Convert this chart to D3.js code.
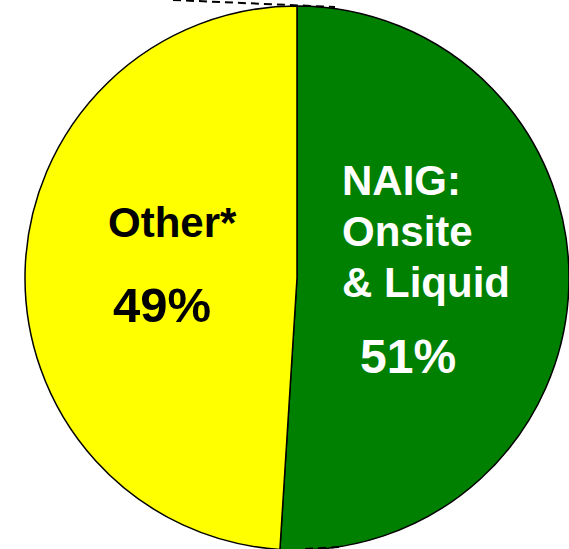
<!DOCTYPE html>
<html>
<head>
<meta charset="utf-8">
<script src="https://cdn.jsdelivr.net/npm/d3@7"></script>
<style>
    html, body { margin: 0; padding: 0; background: #fff; }
    svg { display: block; }
    .lbl { font-family: "Liberation Sans", Arial, sans-serif; font-weight: bold; }
</style>
</head>
<body>
<div id="chart"></div>
<script>
// slices, in drawing order (clockwise from 12 o'clock)
var categories = ["NAIG: Onsite & Liquid", "Other*"];
var shares = [51, 49];
var labelLines = [["NAIG:", "Onsite", "& Liquid"], ["Other*"]];
var percentLabels = ["51%", "49%"];
var sliceColors = ["#008000", "#ffff00"];
var textColors = ["#ffffff", "#000000"];

var width = 569,
    height = 549,
    cx = 297,
    cy = 278,
    radius = 272;

var svg = d3.select("#chart")
    .append("svg")
    .attr("width", width)
    .attr("height", height);

var g = svg.append("g")
    .attr("transform", "translate(" + cx + "," + cy + ")");

var pie = d3.pie().sort(null).value(function (d) { return d; });
var arc = d3.arc().innerRadius(0).outerRadius(radius);

var slices = pie(shares);

g.selectAll("path.slice")
    .data(slices)
    .enter()
    .append("path")
    .attr("class", "slice")
    .attr("d", arc)
    .attr("fill", function (d, i) { return sliceColors[i]; })
    .attr("stroke", "#000")
    .attr("stroke-width", 1.5);

// leader lines from the exploded pie (dashed)
g.append("line")
    .attr("x1", -124).attr("y1", -radius - 6)
    .attr("x2", 38).attr("y2", -radius + 1)
    .attr("stroke", "#000")
    .attr("stroke-width", 2)
    .attr("stroke-dasharray", "8,5");

g.append("line")
    .attr("x1", 8).attr("y1", radius - 1)
    .attr("x2", 42).attr("y2", radius - 3)
    .attr("stroke", "#000")
    .attr("stroke-width", 2)
    .attr("stroke-dasharray", "8,5");

// label layout, relative to the pie centre
var labelPos = [
    { x: 45, y: -83, lineGap: 51, size: 42, px: 63, py: 95, psize: 48 },
    { x: -189, y: -41, lineGap: 51, size: 42, px: -184, py: 44, psize: 49 }
];

slices.forEach(function (s, i) {
    var p = labelPos[i];
    var t = g.append("text")
        .attr("class", "lbl")
        .attr("fill", textColors[i])
        .attr("font-size", p.size + "px")
        .attr("x", p.x)
        .attr("y", p.y);
    labelLines[i].forEach(function (line, j) {
        t.append("tspan")
            .attr("x", p.x)
            .attr("dy", j === 0 ? 0 : p.lineGap)
            .text(line);
    });
    g.append("text")
        .attr("class", "lbl")
        .attr("fill", textColors[i])
        .attr("font-size", p.psize + "px")
        .attr("x", p.px)
        .attr("y", p.py)
        .text(percentLabels[i]);
});
</script>
</body>
</html>
